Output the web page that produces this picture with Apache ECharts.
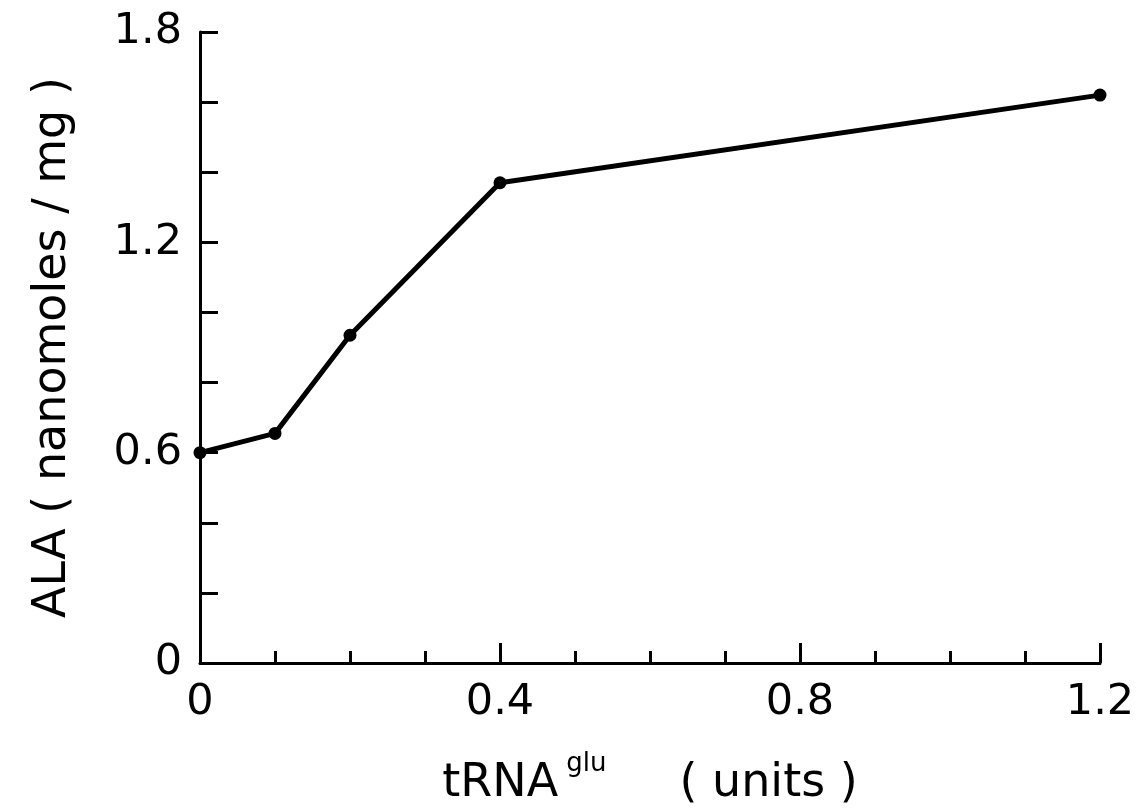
<!DOCTYPE html>
<html>
<head>
<meta charset="utf-8">
<script src="https://cdn.jsdelivr.net/npm/echarts@6/dist/echarts.min.js"></script>
<style>
	html, body { margin: 0; padding: 0; background: #fff; }
	#chart { width: 1140px; height: 812px; }
</style>
</head>
<body>
<div id="chart"></div>
<script>
// tRNA glu (units) vs ALA (nanomoles/mg)
var trnaUnits = [0, 0.1, 0.2, 0.4, 1.2];
var alaValues = [0.6, 0.655, 0.935, 1.37, 1.62];
var xLabels = ['0', '0.4', '0.8', '1.2'];
var yLabels = ['0', '0.6', '1.2', '1.8'];

var font = 'DejaVu Sans';
var points = trnaUnits.map(function(x, i) {
	return [x, alaValues[i]];
});

var chart = echarts.init(document.getElementById('chart'));
chart.setOption({
	animation: false,
	backgroundColor: '#fff',
	grid: { left: 200, right: 40, top: 32, bottom: 135 },
	xAxis: {
		type: 'value',
		min: 0, max: 1.2, interval: 0.4,
		name: '{m|tRNA}{s|glu}{m|     ( units )}',
		nameLocation: 'middle',
		nameGap: 88,
		nameTextStyle: {
			color: '#000',
			rich: {
				m: { fontFamily: font, fontSize: 46, color: '#000' },
				s: { fontFamily: font, fontSize: 26, color: '#000', padding: [0, 0, 40, 8] }
			}
		},
		axisLine: { lineStyle: { color: '#000', width: 3 } },
		axisTick: { inside: true, length: 20, lineStyle: { color: '#000', width: 3 } },
		minorTick: { show: true, splitNumber: 4, length: 12, lineStyle: { color: '#000', width: 3 } },
		splitLine: { show: false },
		axisLabel: {
			color: '#000', fontFamily: font, fontSize: 43, margin: 18,
			formatter: function(v) {
				var s = +v.toFixed(1) + '';
				return xLabels.indexOf(s) >= 0 ? s : '';
			}
		}
	},
	yAxis: {
		type: 'value',
		min: 0, max: 1.8, interval: 0.6,
		name: 'ALA ( nanomoles / mg )',
		nameLocation: 'middle',
		nameGap: 124,
		nameTextStyle: { color: '#000', fontFamily: font, fontSize: 46 },
		axisLine: { lineStyle: { color: '#000', width: 3 } },
		axisTick: { inside: true, length: 18, lineStyle: { color: '#000', width: 3 } },
		minorTick: { show: true, splitNumber: 3, length: 18, lineStyle: { color: '#000', width: 3 } },
		splitLine: { show: false },
		axisLabel: {
			color: '#000', fontFamily: font, fontSize: 43, margin: 18,
			formatter: function(v) {
				var s = +v.toFixed(1) + '';
				return yLabels.indexOf(s) >= 0 ? s : '';
			}
		}
	},
	series: [{
		type: 'line',
		data: points,
		symbol: 'circle',
		symbolSize: 13,
		itemStyle: { color: '#000' },
		lineStyle: { color: '#000', width: 5 }
	}]
});
</script>
</body>
</html>
